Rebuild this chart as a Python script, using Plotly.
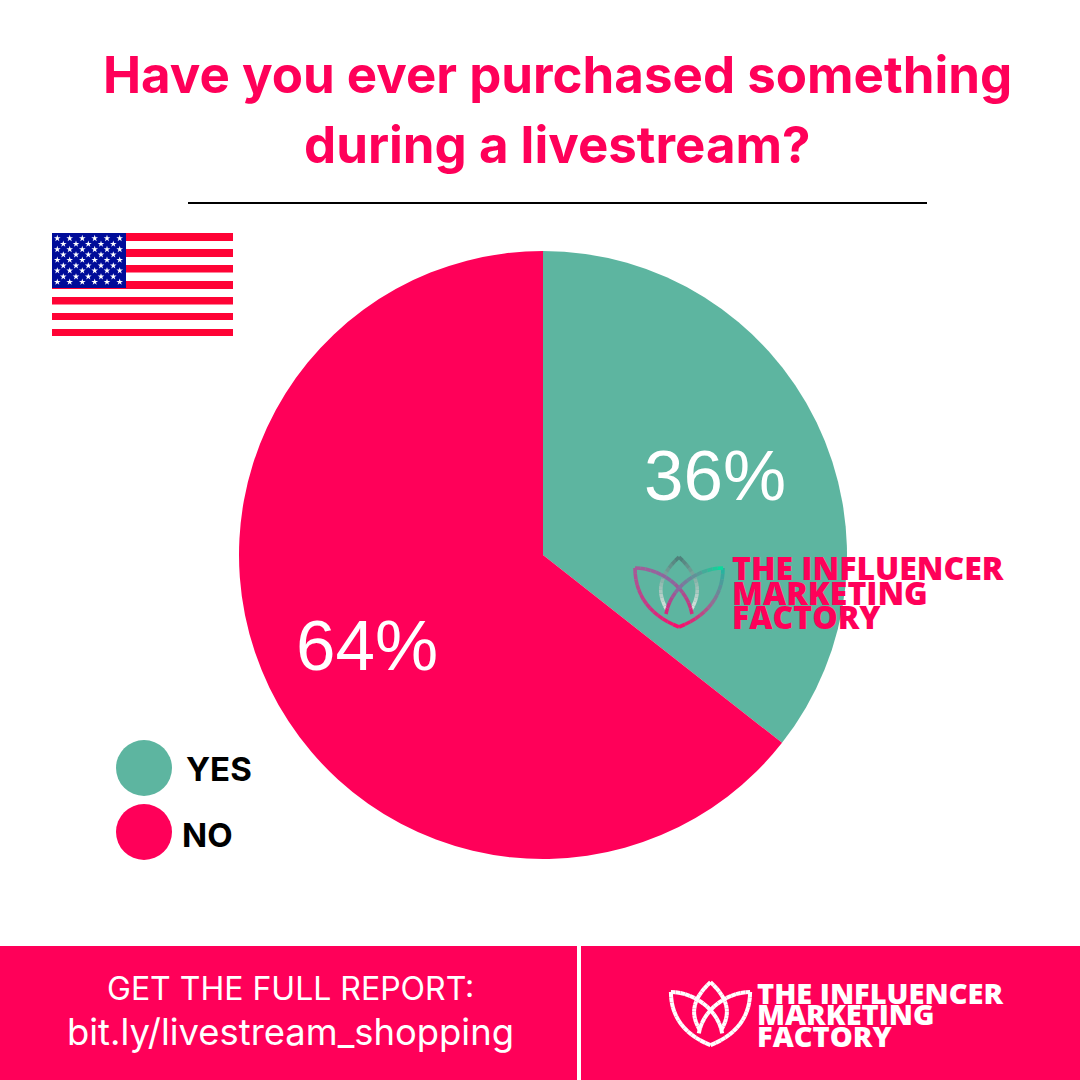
import plotly.graph_objects as go

# ---- data ----
categories = ["YES", "NO"]
values = [35.6, 64.4]
colors = ["#5DB5A0", "#FF0059"]
title_lines = ["Have you ever purchased something", "during a livestream?"]
footer_lines = ["GET THE FULL REPORT:", "bit.ly/livestream_shopping"]
logo_lines = ["THE INFLUENCER", "MARKETING", "FACTORY"]
label_x = [715, 367]
label_y = [475, 645]

PINK = "#FF0059"
W = H = 1080
fig = go.Figure()

# pie
fig.add_trace(go.Pie(
    labels=categories, values=values, sort=False, direction="clockwise", rotation=0,
    marker=dict(colors=colors, line=dict(width=0)),
    textinfo="none", showlegend=False, hoverinfo="skip",
    domain=dict(x=[239 / W, 847 / W], y=[1 - 859 / H, 1 - 251 / H]),
))

# legend dots
legend_y = [768, 832]
fig.add_trace(go.Scatter(
    x=[144, 144], y=legend_y, mode="markers", showlegend=False, hoverinfo="skip",
    marker=dict(size=56, color=colors, line=dict(width=0)),
))

# flag stars
row_y = [238.3, 244, 249.3, 254.7, 260, 265.7, 270.7, 276.7, 282]
x_even = [57.3, 69.7, 82.3, 94.7, 107, 119.7]
x_odd = [63.3, 76, 88.3, 101, 113.3]
sx, sy = [], []
for i, yy in enumerate(row_y):
    for xx in (x_even if i % 2 == 0 else x_odd):
        sx.append(xx)
        sy.append(yy)

shapes = []
def rect(x0, y0, x1, y1, color, layer="below"):
    shapes.append(dict(type="rect", x0=x0, y0=y0, x1=x1, y1=y1, fillcolor=color,
                       line=dict(width=0), layer=layer))

# flag
for y0, y1 in [(233, 241), (249, 257), (265, 272.5), (281, 289), (297, 304.5), (313, 320), (329, 336)]:
    rect(52, y0, 233, y1, "#FF0335")
rect(52, 233, 126, 288, "#000C99")
fig.add_trace(go.Scatter(
    x=sx, y=sy, mode="markers", showlegend=False, hoverinfo="skip",
    marker=dict(symbol="star", size=5, color="white", line=dict(width=0)),
))

# divider
shapes.append(dict(type="line", x0=188, x1=927, y0=203, y1=203, line=dict(color="black", width=2)))
# footer
rect(0, 946, 1080, 1080, PINK)
rect(577, 946, 581, 1080, "white", layer="above")

def hex2rgb(h):
    return [int(h[i:i + 2], 16) for i in (1, 3, 5)]

def grad_curve(ox, oy, s, pts, stops, width, n=14):
    """Cubic bezier stroked in short pieces, colour running through the stops."""
    def B(t):
        u = 1 - t
        return tuple(u**3 * pts[0][k] + 3 * u * u * t * pts[1][k] + 3 * u * t * t * pts[2][k] + t**3 * pts[3][k]
                     for k in (0, 1))
    def C(t):
        p = t * (len(stops) - 1)
        i = min(int(p), len(stops) - 2)
        f = p - i
        a, b = hex2rgb(stops[i]), hex2rgb(stops[i + 1])
        return "rgb(%d,%d,%d)" % tuple(a[k] + (b[k] - a[k]) * f for k in range(3))
    for i in range(n):
        t0, t1 = i / n, (i + 1) / n
        x0, y0 = B(t0)
        x1, y1 = B(t1)
        shapes.append(dict(type="path", layer="above",
                           path=f"M{ox + s * x0:.2f},{oy + s * y0:.2f} L{ox + s * x1:.2f},{oy + s * y1:.2f}",
                           line=dict(color=C((t0 + t1) / 2), width=width)))

CENTER_L = [(-12, 42), (-24, 22), (-18, 6), (0, -11)]
CENTER_R = [(12, 42), (24, 22), (18, 6), (0, -11)]
OUTER_L = [(0, 59), (-28, 48), (-44, 28), (-44, 0)]
OUTER_R = [(0, 59), (28, 48), (44, 28), (44, 0)]
INNER_L = [(-44, 0), (-20, 0), (8, 18), (13, 46)]
INNER_R = [(44, 0), (20, 0), (-8, 18), (-13, 46)]

def logo(ox, oy, s, width, grads):
    for pts, stops in zip([CENTER_L, CENTER_R, OUTER_L, OUTER_R, INNER_L, INNER_R], grads):
        grad_curve(ox, oy, s, pts, stops, width)

logo(679, 568, 1.0, 3.6, [
    ["#DDE6E2", "#8FB8AE", "#4C7C78"],
    ["#DDE6E2", "#8FB8AE", "#4C7C78"],
    ["#FF0A6A", "#C83A86", "#A85A98"],
    ["#FF0A6A", "#9A6A94", "#20B8A0"],
    ["#A85A98", "#8A6AA0", "#D82A7A"],
    ["#00E29C", "#5A9A98", "#8A6AA0", "#E0207A"],
])
white = ["#FFFFFF", "#FFFFFF"]
logo(710.5, 992, 0.9, 4, [white] * 6)

ann = []
def text(x, y, s, size, color, family="Inter", weight=700, anchor="left"):
    ann.append(dict(x=x, y=y, text=s, xref="x", yref="y", showarrow=False, xanchor=anchor,
                    yanchor="middle", font=dict(family=family, size=size, color=color, weight=weight)))

text(557, 74, title_lines[0], 51, PINK, anchor="center")
text(557, 144, title_lines[1], 51, PINK, anchor="center")
text(184, 769, categories[0], 33, "black")
text(180, 835, categories[1], 33, "black")
text(290.5, 988, footer_lines[0], 32, "white", weight=400, anchor="center")
text(290.5, 1032, footer_lines[1], 36.4, "white", weight=400, anchor="center")
total = sum(values)
for x, y, v in zip(label_x, label_y, values):
    text(x, y, f"{round(100 * v / total)}%", 71, "white", family="Liberation Sans", weight=400, anchor="center")
for yy, line in zip([567, 592, 616], logo_lines):
    text(730, yy, line, 32, PINK, family="Open Sans", weight=800)
for yy, line in zip([992, 1013, 1035], logo_lines):
    text(754.5, yy, line, 29, "white", family="Open Sans", weight=800)

fig.update_layout(
    width=W, height=H, margin=dict(l=0, r=0, t=0, b=0),
    paper_bgcolor="white", plot_bgcolor="rgba(0,0,0,0)",
    xaxis=dict(range=[0, W], visible=False, fixedrange=True, domain=[0, 1]),
    yaxis=dict(range=[H, 0], visible=False, fixedrange=True, domain=[0, 1]),
    shapes=shapes, annotations=ann, showlegend=False,
)
fig.write_html("out.html", post_script="document.body.style.margin='0';document.body.style.overflow='hidden';",
               config=dict(displayModeBar=False))
